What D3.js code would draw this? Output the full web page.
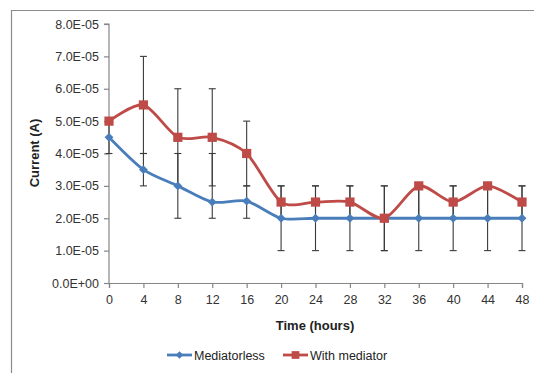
<!DOCTYPE html>
<html>
<head>
<meta charset="utf-8">
<script src="https://cdn.jsdelivr.net/npm/d3@7"></script>
<style>
  body { margin: 0; background: #fff; }
  svg { display: block; font-family: "Liberation Sans", Arial, sans-serif; }
</style>
</head>
<body>
<svg id="chart" width="534" height="373"></svg>
<script>
// hours
const hours = [0, 4, 8, 12, 16, 20, 24, 28, 32, 36, 40, 44, 48];

// mean current (A)
const mediatorless = [4.5e-5, 3.5e-5, 3.0e-5, 2.5e-5, 2.53e-5, 2.0e-5, 2.0e-5, 2.0e-5, 2.0e-5, 2.0e-5, 2.0e-5, 2.0e-5, 2.0e-5];
const withMediator = [5.0e-5, 5.5e-5, 4.5e-5, 4.5e-5, 4.0e-5, 2.5e-5, 2.5e-5, 2.5e-5, 2.0e-5, 3.0e-5, 2.5e-5, 3.0e-5, 2.5e-5];

// error bar ends (low / high)
const mediatorlessLow  = [4.0e-5, 3.0e-5, 2.0e-5, 2.0e-5, 2.0e-5, 1.0e-5, 1.0e-5, 1.0e-5, 1.0e-5, 1.0e-5, 1.0e-5, 1.0e-5, 1.0e-5];
const mediatorlessHigh = [5.0e-5, 4.0e-5, 4.0e-5, 4.0e-5, 3.0e-5, 3.0e-5, 3.0e-5, 3.0e-5, 3.0e-5, 3.0e-5, 3.0e-5, 3.0e-5, 3.0e-5];
const withMediatorLow  = [5.0e-5, 4.0e-5, 3.0e-5, 3.0e-5, 3.0e-5, 2.0e-5, 2.0e-5, 2.0e-5, 1.0e-5, 2.0e-5, 2.0e-5, 2.0e-5, 2.0e-5];
const withMediatorHigh = [5.0e-5, 7.0e-5, 6.0e-5, 6.0e-5, 5.0e-5, 3.0e-5, 3.0e-5, 3.0e-5, 3.0e-5, 3.0e-5, 3.0e-5, 3.0e-5, 3.0e-5];

const yTicks = [0, 1e-5, 2e-5, 3e-5, 4e-5, 5e-5, 6e-5, 7e-5, 8e-5];

const seriesNames = ['Mediatorless', 'With mediator'];
const seriesColors = ['#4a7ebb', '#be4b48'];

const svg = d3.select('#chart');
const axisColor = '#868686';

const x = d3.scaleLinear().domain([0, 48]).range([109, 522]);
const y = d3.scaleLinear().domain([0, 8e-5]).range([283, 24]);

const fmtSci = (v) => {
  if (v === 0) return '0.0E+00';
  const [m, e] = v.toExponential(1).split('e');
  const n = Math.abs(+e);
  return `${m}E${+e < 0 ? '-' : '+'}${String(n).padStart(2, '0')}`;
};

// outer frame
svg.append('path')
  .attr('d', 'M11.5,380 V10.5 H540')
  .attr('fill', 'none')
  .attr('stroke', '#8c8c8c')
  .attr('stroke-width', 1.2);

// axes
const yAxis = d3.axisLeft(y).tickValues(yTicks).tickFormat(fmtSci).tickSize(5).tickPadding(5);
const xAxis = d3.axisBottom(x).tickValues(hours).tickSize(5).tickPadding(7);

const gy = svg.append('g').attr('transform', `translate(${x(0)},0)`).call(yAxis);
const gx = svg.append('g').attr('transform', `translate(0,${y(0)})`).call(xAxis);

[gx, gy].forEach((g) => {
  g.select('.domain').attr('stroke', axisColor).attr('stroke-width', 1.2);
  g.selectAll('.tick line').attr('stroke', axisColor).attr('stroke-width', 1.2);
  g.selectAll('.tick text')
    .attr('fill', '#333')
    .style('font-size', '12.5px')
    .style('font-family', '"Liberation Sans", Arial, sans-serif');
});
gy.select('.domain').attr('d', `M-5,${y(8e-5)}H0V${y(0)}`);

// error bars
const errData = [
  { low: mediatorlessLow, high: mediatorlessHigh },
  { low: withMediatorLow, high: withMediatorHigh },
];
const errG = svg.append('g').attr('stroke', '#3a3a3a').attr('stroke-width', 1.1);
errData.forEach((s) => {
  hours.forEach((h, i) => {
    const lo = s.low[i], hi = s.high[i];
    if (lo === hi) return;
    const cx = x(h);
    errG.append('line').attr('x1', cx).attr('x2', cx).attr('y1', y(lo)).attr('y2', y(hi));
    [lo, hi].forEach((v) => {
      errG.append('line').attr('x1', cx - 3.5).attr('x2', cx + 3.5).attr('y1', y(v)).attr('y2', y(v));
    });
  });
});

// lines
const line = d3.line()
  .x((d) => x(d[0]))
  .y((d) => y(d[1]))
  .curve(d3.curveCardinal.tension(0.2));

const allSeries = [mediatorless, withMediator];
allSeries.forEach((vals, si) => {
  svg.append('path')
    .datum(hours.map((h, i) => [h, vals[i]]))
    .attr('d', line)
    .attr('fill', 'none')
    .attr('stroke', seriesColors[si])
    .attr('stroke-width', 2.8);
});

// markers
const diamond = d3.symbol().type(d3.symbolDiamond2).size(50);
const square = d3.symbol().type(d3.symbolSquare).size(85);
const markerFor = [diamond, square];

allSeries.forEach((vals, si) => {
  svg.append('g')
    .selectAll('path')
    .data(hours.map((h, i) => [h, vals[i]]))
    .join('path')
    .attr('d', markerFor[si])
    .attr('transform', (d) => `translate(${x(d[0])},${y(d[1])})`)
    .attr('fill', seriesColors[si]);
});

// axis titles
svg.append('text')
  .attr('x', 315).attr('y', 330)
  .attr('text-anchor', 'middle')
  .style('font-size', '13px').style('font-weight', 'bold')
  .attr('fill', '#222')
  .text('Time (hours)');

svg.append('text')
  .attr('transform', 'translate(39,153) rotate(-90)')
  .attr('text-anchor', 'middle')
  .style('font-size', '13px').style('font-weight', 'bold')
  .attr('fill', '#222')
  .text('Current (A)');

// legend
const legendX = [167, 283];
seriesNames.forEach((name, i) => {
  const g = svg.append('g').attr('transform', `translate(${legendX[i]},355)`);
  g.append('line').attr('x1', 0).attr('x2', 25).attr('stroke', seriesColors[i]).attr('stroke-width', 2.8);
  g.append('path').attr('d', markerFor[i].size(i === 0 ? 36 : 60)).attr('transform', 'translate(12.5,0)').attr('fill', seriesColors[i]);
  g.append('text').attr('x', 27).attr('y', 4.5)
    .style('font-size', '12.5px').attr('fill', '#222')
    .text(name);
});
</script>
</body>
</html>
